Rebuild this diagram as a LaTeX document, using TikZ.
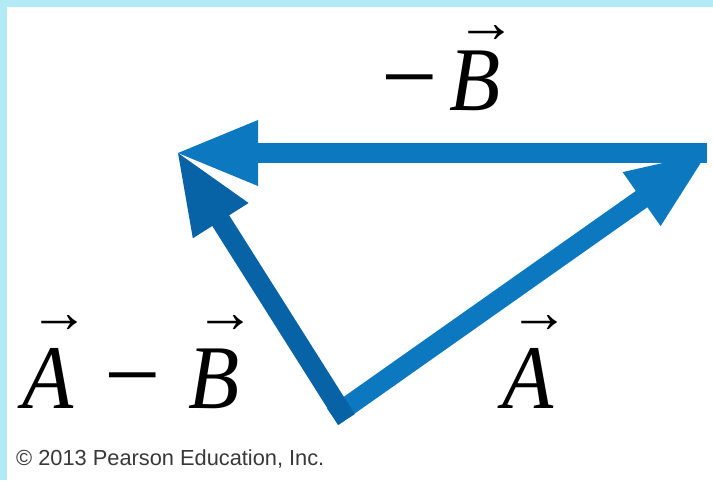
\documentclass[tikz,border=0pt]{standalone}
\usepackage{fontspec}
\setmainfont[FakeStretch=0.92]{Liberation Serif}
\newfontfamily\plainserif{Liberation Serif}
\newfontfamily\creditfont{Liberation Sans}
\usetikzlibrary{arrows.meta}
\definecolor{vecblue}{RGB}{11,120,192}
\definecolor{vecdark}{RGB}{8,98,166}
\definecolor{panelcyan}{RGB}{178,234,246}
\newcommand{\vecl}[2][0.83em]{\rlap{\hspace{0.08em}\raisebox{#1}{\plainserif\fontsize{60}{60}\selectfont →}}\textit{#2}}
\newcommand{\minussign}{{\plainserif\fontsize{100}{100}\selectfont −}}

\begin{document}
\begin{tikzpicture}[x=1pt, y=-1pt,
    vecarrow/.style={line width=20pt, -{Triangle[length=80pt, width=66pt, line width=0pt]}},
    lbl/.style={inner sep=0pt, anchor=base west, font=\fontsize{91}{91}\selectfont}]
    \useasboundingbox (0,0) rectangle (713,480);

    % Frame strips
    \fill[panelcyan] (0,0) rectangle (713,7);
    \fill[panelcyan] (0,0) rectangle (7,480);

    % Tail and tips
    \coordinate (O) at (341,411);
    \coordinate (R) at (707,153);
    \coordinate (L) at (178,153);

    % Vectors A, -B and A-B
    \draw[vecarrow, vecblue] (R) -- (L);
    \draw[vecarrow, vecblue, line cap=rect] (O) -- (R);
    \draw[vecarrow, vecdark, line cap=rect] (O) -- (L);

    % Labels
    \node[lbl] (negB) at (381,110) {\minussign\hspace{0.13em}\vecl[0.74em]{B}};
    \node[lbl] (diff) at (22,408) {\vecl{A}\hspace{0.34em}\minussign\hspace{0.3em}\vecl{B}};
    \node[lbl] (vecA) at (502,408) {\vecl{A}};

    % Credit line
    \node[inner sep=0pt, anchor=base west, text=black!78,
          font=\creditfont\fontsize{21.8}{24}\selectfont] (credit) at (16,465) {© 2013 Pearson Education, Inc.};
\end{tikzpicture}
\end{document}
